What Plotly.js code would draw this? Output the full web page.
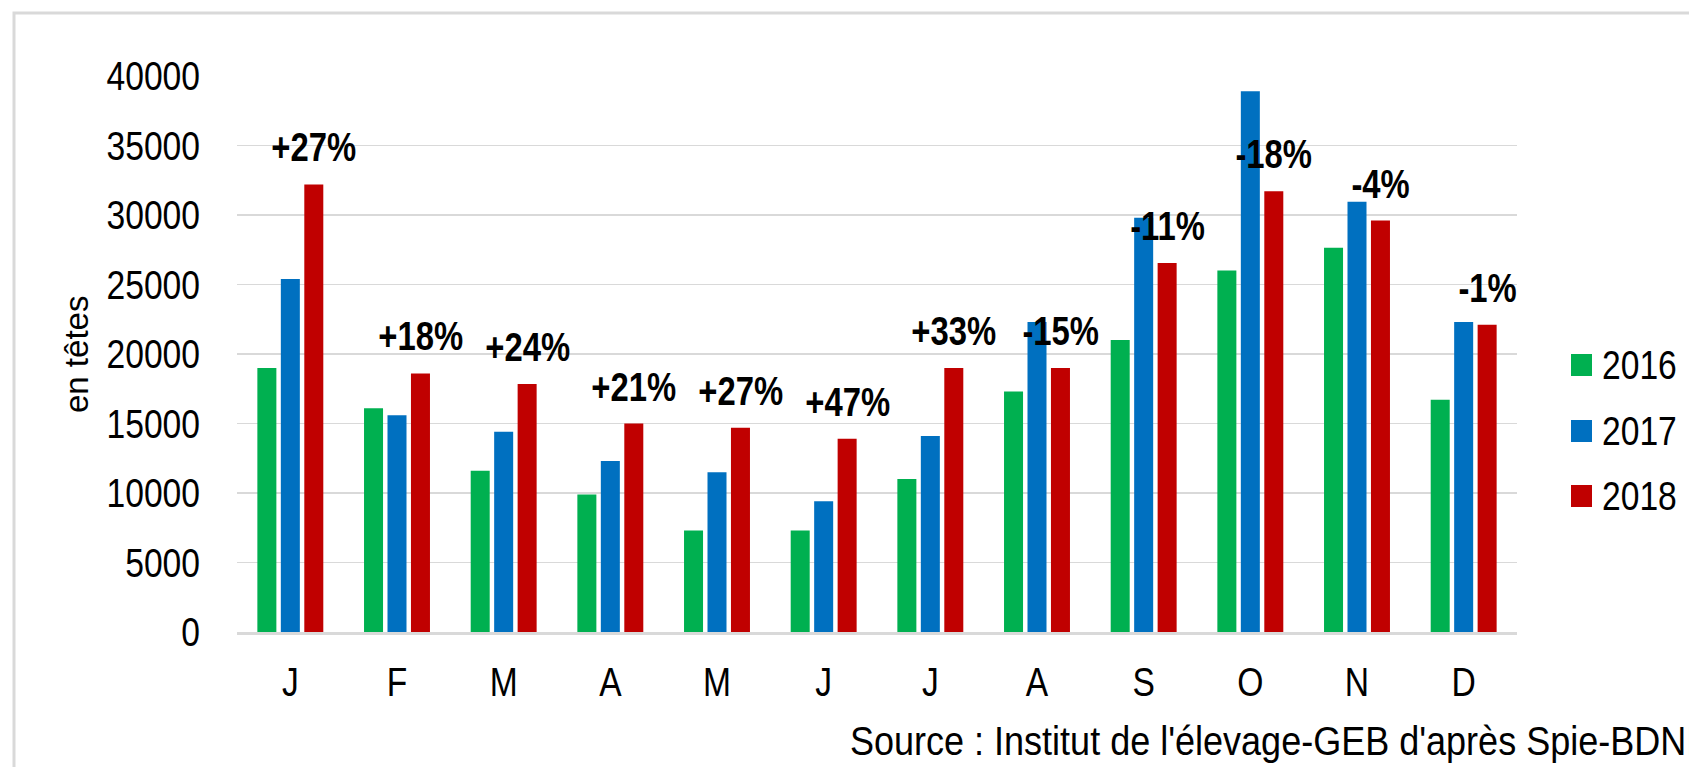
<!DOCTYPE html>
<html>
<head>
<meta charset="utf-8">
<script src="https://cdn.plot.ly/plotly-3.0.1.min.js"></script>
<style>
  html, body { margin: 0; padding: 0; background: white; }
  #chart { width: 1689px; height: 767px; }
</style>
</head>
<body>
<div id="chart"></div>
<script>
// Monthly values, in head counts
const months = ['J', 'F', 'M', 'A', 'M', 'J', 'J', 'A', 'S', 'O', 'N', 'D'];
const years = ['2016', '2017', '2018'];
const values2016 = [19000, 16100, 11600, 9900, 7300, 7300, 11000, 17300, 21000, 26000, 27650, 16700];
const values2017 = [25400, 15600, 14400, 12300, 11500, 9400, 14100, 22300, 29800, 38900, 30950, 22300];
const values2018 = [32200, 18600, 17850, 15000, 14700, 13900, 19000, 19000, 26550, 31700, 29600, 22100];
const changeLabels = ['+27%', '+18%', '+24%', '+21%', '+27%', '+47%', '+33%', '-15%', '-11%', '-18%', '-4%', '-1%'];
const yTicks = [0, 5000, 10000, 15000, 20000, 25000, 30000, 35000, 40000];
const sourceText = "Source : Institut de l'élevage-GEB d'après Spie-BDNI";
const yTitle = 'en têtes';

const colors = ['#00b050', '#0070c0', '#c00000'];
// no narrow face installed: use Liberation Sans and squeeze it afterwards
const sans = "'Liberation Sans', Arial, sans-serif";

const xIdx = months.map((m, i) => i);
const series = [values2016, values2017, values2018];

const traces = series.map((vals, k) => ({
    type: 'bar',
    x: xIdx,
    y: vals,
    name: years[k],
    marker: { color: colors[k] },
    showlegend: false,
    hoverinfo: 'x+y+name'
}));

// Percentage labels above the 2018 bars
const annotations = changeLabels.map((txt, i) => ({
    x: i + 0.22,
    y: values2018[i],
    xref: 'x',
    yref: 'y',
    text: txt,
    showarrow: false,
    yanchor: 'middle',
    xanchor: 'center',
    yshift: 37,
    font: { family: sans, size: 40, color: '#000', weight: 'bold' }
}));

// Source line
annotations.push({
    xref: 'paper', yref: 'paper',
    x: (848 - 237) / 1280, y: (632 - 741) / 556,
    xanchor: 'left', yanchor: 'middle',
    text: sourceText,
    showarrow: false,
    font: { family: sans, size: 40, color: '#000' }
});

// Y axis title
annotations.push({
    xref: 'paper', yref: 'paper',
    x: (76 - 237) / 1280, y: (632 - 355) / 556,
    xanchor: 'center', yanchor: 'middle',
    text: yTitle,
    textangle: -90,
    showarrow: false,
    font: { family: sans, size: 33, color: '#000' }
});

// Hand-made legend (square swatches bigger than plotly's own)
const shapes = [];
const legendY = [365, 431, 496];
years.forEach((yr, k) => {
    const yc = (632 - legendY[k]) / 556;
    const h = 11 / 556;
    shapes.push({
        type: 'rect', xref: 'paper', yref: 'paper',
        x0: (1571 - 237) / 1280, x1: (1592 - 237) / 1280,
        y0: yc - h, y1: yc + h,
        fillcolor: colors[k], line: { width: 0 }
    });
    annotations.push({
        xref: 'paper', yref: 'paper',
        x: (1600 - 237) / 1280, y: yc,
        xanchor: 'left', yanchor: 'middle',
        text: yr, showarrow: false,
        font: { family: sans, size: 41, color: '#000' }
    });
});

// Outer light frame
shapes.push({
    type: 'rect', xref: 'paper', yref: 'paper',
    x0: (14 - 237) / 1280, x1: (1720 - 237) / 1280,
    y0: (632 - 800) / 556, y1: (632 - 13) / 556,
    line: { color: '#d9d9d9', width: 3 },
    fillcolor: 'rgba(0,0,0,0)',
    layer: 'below'
});

const layout = {
    width: 1689,
    height: 767,
    margin: { l: 237, r: 172, t: 76, b: 135 },
    paper_bgcolor: 'white',
    plot_bgcolor: 'white',
    barmode: 'group',
    bargap: 0.34,
    bargroupgap: 0.19,
    font: { family: sans, color: '#000' },
    xaxis: {
        range: [-0.5, 11.5],
        tickmode: 'array',
        tickvals: xIdx,
        ticktext: months,
        tickfont: { family: sans, size: 41, color: '#000' },
        ticklabelstandoff: 12,
        showgrid: false,
        showline: true,
        linecolor: '#d9d9d9',
        linewidth: 2.5,
        zeroline: false,
        fixedrange: true
    },
    yaxis: {
        range: [0, 40000],
        tickmode: 'array',
        tickvals: yTicks,
        ticktext: yTicks.map(String),
        tickfont: { family: sans, size: 41, color: '#000' },
        ticklabelstandoff: 36,
        showgrid: true,
        gridcolor: '#d9d9d9',
        gridwidth: 1.5,
        zeroline: false,
        showline: false,
        fixedrange: true
    },
    annotations: annotations,
    shapes: shapes,
    showlegend: false
};

// The reference uses a condensed face: squeeze horizontal texts in place.
// Left-anchored annotations are drawn centred, so pull them back to keep their left edge,
// and shrink the (invisible) annotation box to the new text width.
function condenseTexts(gd) {
    gd.querySelectorAll('text').forEach(t => {
        const s = t.textContent;
        if (!s || s === yTitle) return;
        const factor = s === sourceText ? 0.9 : 0.82;
        const len = t.getComputedTextLength();
        const newLen = len * factor;
        const diff = len - newLen;
        t.setAttribute('textLength', newLen.toFixed(1));
        t.setAttribute('lengthAdjust', 'spacingAndGlyphs');

        if (!t.classList.contains('annotation-text')) return;
        const leftAnchored = s === sourceText || years.includes(s);
        if (leftAnchored) {
            const x = parseFloat(t.getAttribute('x')) || 0;
            t.setAttribute('x', (x - diff / 2).toFixed(1));
        }
        const bg = t.parentNode.querySelector('rect.bg');
        if (bg) {
            const bx = parseFloat(bg.getAttribute('x')) || 0;
            const bw = parseFloat(bg.getAttribute('width')) || 0;
            bg.setAttribute('width', Math.max(0, bw - diff).toFixed(1));
            if (!leftAnchored) bg.setAttribute('x', (bx + diff / 2).toFixed(1));
        }
    });
}

Plotly.newPlot('chart', traces, layout, { displayModeBar: false, staticPlot: true })
    .then(condenseTexts);
</script>
</body>
</html>
